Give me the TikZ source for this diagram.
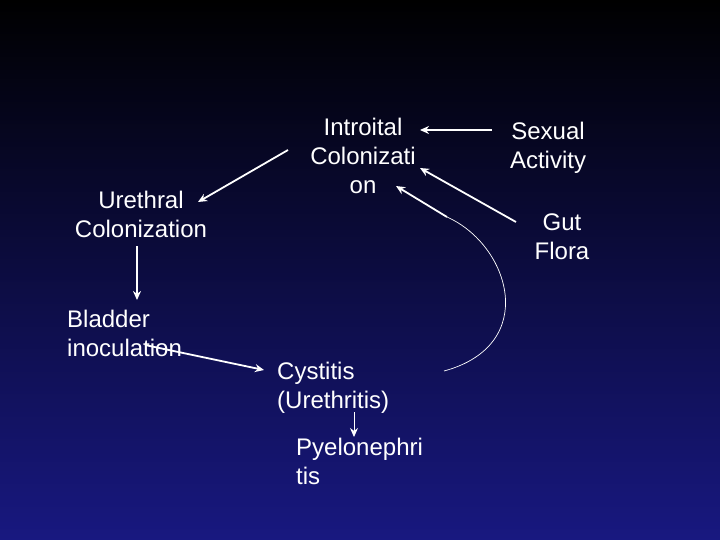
\documentclass[tikz,border=0pt]{standalone}
\usepackage{fontspec}
\setmainfont{Liberation Sans}
\usetikzlibrary{arrows.meta}
\begin{document}
\begin{tikzpicture}[x=1pt,y=-1pt,
  lbl/.style={text=white,font=\fontsize{24}{29}\selectfont,align=center,inner sep=0pt},
  lbll/.style={lbl,align=left},
  arr/.style={draw=white,line width=1.8pt,-{Stealth[length=9pt,width=8pt]}}]
\shade[top color=black,bottom color={rgb,255:red,24;green,24;blue,128}] (0,0) rectangle (720,540);
\useasboundingbox (0,0) rectangle (720,540);
\node[lbl] (intro) at (363,156) {Introital\\Colonizati\\on};
\node[lbl] (ureth) at (141,214) {Urethral\\Colonization};
\node[lbl] (sex) at (548,148) {Sexual\\Activity};
\node[lbl] (gut) at (562,237) {Gut\\Flora};
\node[lbll,anchor=west] (blad) at (67,333) {Bladder\\inoculation};
\node[lbll,anchor=west] (cyst) at (277,388) {Cystitis\\(Urethritis)};
\node[lbll,anchor=west] (pyel) at (296,461) {Pyelonephri\\tis};
\coordinate (a1) at (288,150); \coordinate (a2) at (198,202);
\coordinate (b1) at (492,130); \coordinate (b2) at (420,130);
\coordinate (c1) at (516,222); \coordinate (c2) at (420,168);
\coordinate (d1) at (137,246); \coordinate (d2) at (137,300);
\coordinate (e1) at (145,345); \coordinate (e2) at (264,370);
\coordinate (f1) at (354,412); \coordinate (f2) at (354,437);
\coordinate (g0) at (444,371); \coordinate (g1) at (447,217); \coordinate (g2) at (396,186);
\draw[arr] (a1) -- (a2);
\draw[arr] (b1) -- (b2);
\draw[arr] (c1) -- (c2);
\draw[arr] (d1) -- (d2);
\draw[arr] (e1) -- (e2);
\draw[arr,line width=1pt] (f1) -- (f2);
\draw[white,line width=0.7pt] (g0) .. controls (540,345) and (510,245) .. (g1);
\draw[arr] (g1) -- (g2);
\end{tikzpicture}
\end{document}
